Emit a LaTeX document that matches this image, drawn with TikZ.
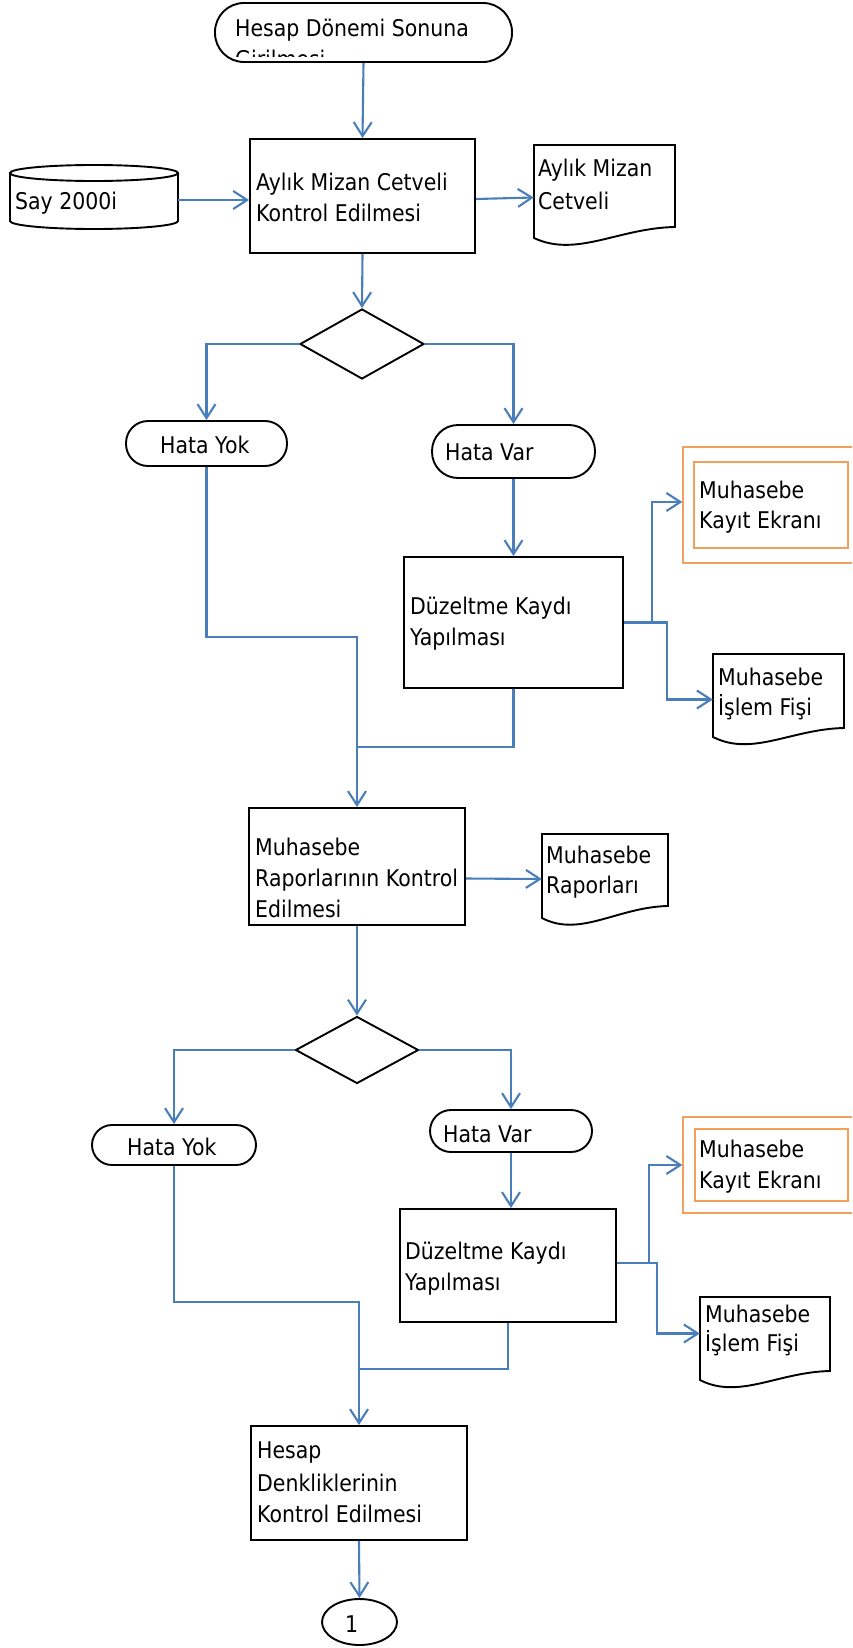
\documentclass[tikz,border=0pt]{standalone}
\usepackage{fontspec}
\setmainfont{DejaVu Sans}[FakeStretch=0.89]
\usetikzlibrary{shapes.geometric,arrows.meta}
\definecolor{cblue}{RGB}{74,126,187}
\definecolor{corange}{RGB}{245,160,90}
\newcommand{\docshape}[5]{%
  \draw[shp] (#1,#2) -- (#3,#2) -- (#3,#5) .. controls ({#1+0.6*(#3-#1)},{#5+1}) and ({#1+0.3*(#3-#1)},{#4+20}) .. (#1,#4) -- cycle;}
\begin{document}
\begin{tikzpicture}[x=1pt,y=-1pt,
  shp/.style={draw=black, line width=1.9pt, line join=miter},
  box/.style={shp, rectangle, inner sep=0pt},
  termshape/.style={shp, rectangle, inner sep=0pt, rounded corners=#1},
  ghost/.style={rectangle, inner sep=0pt},
  txt/.style={anchor=base west, inner sep=0pt, font=\fontsize{23}{31}\selectfont},
  flow/.style={draw=cblue, line width=2.1pt},
  conn/.style={flow, -{Straight Barb[length=14pt,width=18pt]}},
  orng/.style={draw=corange, line width=1.3pt, rectangle, inner sep=0pt}]
\useasboundingbox (0,0) rectangle (852,1648);
\fill[white] (0,0) rectangle (852,1648);
\clip (0,0) rectangle (852,1648);

% ---------- shapes ----------
\node[termshape=29pt, minimum width=297pt, minimum height=59pt] (start) at (363.5,32.5) {};
\begin{scope}
  \clip (215,3) rectangle (512,57);
  \node[txt] (t0a) at (235,37) {Hesap Dönemi Sonuna};
  \node[txt] (t0b) at (235,68) {Girilmesi};
\end{scope}

% cylinder
\draw[shp] (10,173) -- (10,221) arc[start angle=180, end angle=360, x radius=84pt, y radius=8pt] -- (178,173);
\draw[shp] (94,173) ellipse [x radius=84pt, y radius=8pt];
\node[ghost, minimum width=168pt, minimum height=64pt] (cyl) at (94,197) {};
\coordinate (cylout) at (178,200);
\node[txt] (tcyl) at (15,210) {Say 2000i};

\node[box, minimum width=225pt, minimum height=114pt] (b1) at (362.5,196) {};
\node[txt] (t1a) at (256,190) {Aylık Mizan Cetveli};
\node[txt] (t1b) at (256,221) {Kontrol Edilmesi};

\docshape{534}{145}{675}{238}{227}
\node[ghost, minimum width=141pt, minimum height=93pt] (doc1) at (604.5,191.5) {};
\node[txt] (td1a) at (538,177) {Aylık Mizan};
\node[txt] (td1b) at (538,210) {Cetveli};

\node[shp, diamond, minimum width=124pt, minimum height=70pt, inner sep=0pt] (d1) at (362,344) {};

\node[termshape=22pt, minimum width=161pt, minimum height=45pt] (hy1) at (206.5,443.5) {};
\node[txt] (thy1) at (160,453) {Hata Yok};
\node[termshape=26pt, minimum width=163pt, minimum height=53pt] (hv1) at (513.5,451.5) {};
\node[txt] (thv1) at (445,460) {Hata Var};

\node[box, minimum width=219pt, minimum height=131pt] (dz1) at (513.5,622.5) {};
\node[txt] (tdz1a) at (410,614) {Düzeltme Kaydı};
\node[txt] (tdz1b) at (410,645) {Yapılması};

\node[orng, minimum width=187pt, minimum height=116pt] (ke1) at (776.5,505) {};
\draw[corange, line width=1.3pt] (694,462) rectangle (848,548);
\node[txt] (tke1a) at (699,498) {Muhasebe};
\node[txt] (tke1b) at (699,528) {Kayıt Ekranı};

\docshape{713}{654}{844}{737}{728}
\node[ghost, minimum width=131pt, minimum height=83pt] (fis1) at (778.5,695.5) {};
\node[txt] (tf1a) at (718,685) {Muhasebe};
\node[txt] (tf1b) at (718,715) {İşlem Fişi};

\node[box, minimum width=216pt, minimum height=117pt] (b2) at (357,866.5) {};
\node[txt] (t2a) at (255,855) {Muhasebe};
\node[txt] (t2b) at (255,886) {Raporlarının Kontrol};
\node[txt] (t2c) at (255,917) {Edilmesi};

\docshape{542}{834}{668}{918}{906}
\node[ghost, minimum width=126pt, minimum height=84pt] (rap) at (605,876) {};
\node[txt] (tra) at (546,863) {Muhasebe};
\node[txt] (trb) at (546,893) {Raporları};

\node[shp, diamond, minimum width=123pt, minimum height=67pt, inner sep=0pt] (d2) at (357,1050) {};

\node[termshape=20pt, minimum width=164pt, minimum height=40pt] (hy2) at (174,1145) {};
\node[txt] (thy2) at (127,1155) {Hata Yok};
\node[termshape=21pt, minimum width=162pt, minimum height=42pt] (hv2) at (511,1131) {};
\node[txt] (thv2) at (443,1142) {Hata Var};

\node[box, minimum width=216pt, minimum height=113pt] (dz2) at (508,1265.5) {};
\node[txt] (tdz2a) at (405,1259) {Düzeltme Kaydı};
\node[txt] (tdz2b) at (405,1290) {Yapılması};

\node[orng, minimum width=187pt, minimum height=96pt] (ke2) at (776.5,1165) {};
\draw[corange, line width=1.3pt] (695,1129) rectangle (848,1201);
\node[txt] (tke2a) at (699,1157) {Muhasebe};
\node[txt] (tke2b) at (699,1188) {Kayıt Ekranı};

\docshape{700}{1297}{830}{1380}{1371}
\node[ghost, minimum width=130pt, minimum height=83pt] (fis2) at (765,1338.5) {};
\node[txt] (tf2a) at (705,1322) {Muhasebe};
\node[txt] (tf2b) at (705,1351) {İşlem Fişi};

\node[box, minimum width=216pt, minimum height=114pt] (b3) at (359,1483) {};
\node[txt] (t3a) at (257,1458) {Hesap};
\node[txt] (t3b) at (257,1491) {Denkliklerinin};
\node[txt] (t3c) at (257,1522) {Kontrol Edilmesi};

\node[shp, ellipse, minimum width=75pt, minimum height=46pt, inner sep=0pt] (end) at (359.5,1622) {};
\node[txt] (tend) at (345,1632) {1};

% ---------- connectors ----------
\draw[conn] (start.south) -- (b1.north);
\draw[conn] (cylout) -- (cylout -| b1.west);
\draw[conn] ([yshift=-3pt]b1.east) -- ([yshift=-6pt]doc1.west);
\draw[conn] (b1.south) -- (d1.north);
\draw[conn] (d1.west) -| (hy1.north);
\draw[conn] (d1.east) -| (hv1.north);
\draw[conn] (hv1.south) -- (dz1.north);
\coordinate (j1) at (652,622.5);
\draw[flow] (dz1.east) -- (j1);
\draw[conn] (j1) |- ([yshift=3pt]ke1.west);
\draw[conn] (j1) -- ++(15,0) |- ([yshift=-4pt]fis1.west);
\coordinate (m1) at (357,637);
\coordinate (m1b) at (357,747);
\draw[conn] (hy1.south) |- (m1) -- (b2.north);
\draw[flow] (dz1.south) |- (m1b);
\draw[conn] ([yshift=-12pt]b2.east) -- ([yshift=-3pt]rap.west);
\draw[conn] (b2.south) -- (d2.north);
\draw[conn] (d2.west) -| (hy2.north);
\draw[conn] (d2.east) -| (hv2.north);
\draw[conn] (hv2.south) -- (hv2.south |- dz2.north);
\coordinate (j2) at (649,1263);
\draw[flow] ([yshift=2.5pt]dz2.east) -- (j2);
\draw[conn] (j2) |- (ke2.west);
\draw[conn] (j2) -- ++(8,0) |- ([yshift=5pt]fis2.west);
\coordinate (m2) at (359,1302);
\coordinate (m2b) at (359,1369);
\draw[conn] (hy2.south) |- (m2) -- (b3.north);
\draw[flow] (dz2.south) |- (m2b);
\draw[conn] (b3.south) -- (end.north);
\end{tikzpicture}
\end{document}
